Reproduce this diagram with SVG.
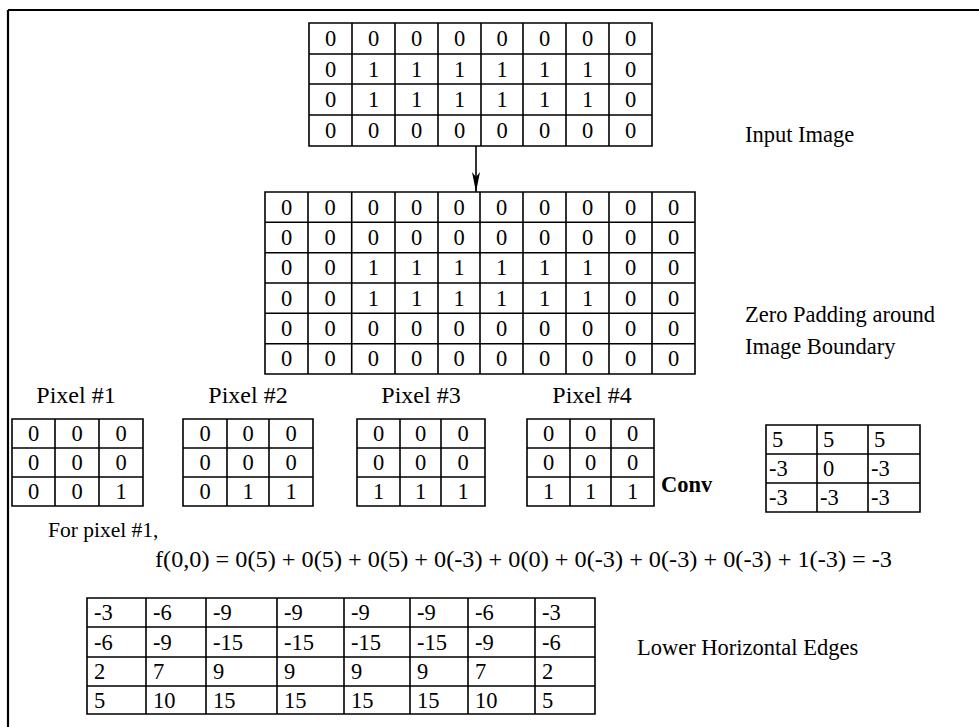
<svg xmlns="http://www.w3.org/2000/svg" width="979" height="727" viewBox="0 0 979 727">
<style>
text{font-family:"Liberation Serif","Times New Roman",serif;font-size:22.5px;fill:#000}
.c{text-anchor:middle}
.g{fill:none;stroke:#000;stroke-width:1.6}
.b{font-weight:bold}
.p{font-size:24px}
</style>
<defs>
<marker id="ah" markerUnits="userSpaceOnUse" viewBox="0 0 20 10" refX="20" refY="5" markerWidth="20" markerHeight="10" orient="auto">
<path d="M0,1 L20,5 L0,9 L5,5 Z" fill="#000"/>
</marker>
</defs>
<rect width="979" height="727" fill="#fff"/>
<g id="frame"><path d="M8,10 H979 M8,10 V727" stroke="#000" stroke-width="2.2" fill="none"/></g>

<g id="input-image">
<path class="g" d="M309,23 H652 V146 H309 Z M309,54 H652 M309,84 H652 M309,115 H652 M352,23 V146 M395,23 V146 M438,23 V146 M481,23 V146 M523,23 V146 M566,23 V146 M609,23 V146"/>
<g class="c">
<text x="330.5" y="46">0</text><text x="373.5" y="46">0</text><text x="416.5" y="46">0</text><text x="459.5" y="46">0</text><text x="502" y="46">0</text><text x="544.5" y="46">0</text><text x="587.5" y="46">0</text><text x="630.5" y="46">0</text>
<text x="330.5" y="76.5">0</text><text x="373.5" y="76.5">1</text><text x="416.5" y="76.5">1</text><text x="459.5" y="76.5">1</text><text x="502" y="76.5">1</text><text x="544.5" y="76.5">1</text><text x="587.5" y="76.5">1</text><text x="630.5" y="76.5">0</text>
<text x="330.5" y="107">0</text><text x="373.5" y="107">1</text><text x="416.5" y="107">1</text><text x="459.5" y="107">1</text><text x="502" y="107">1</text><text x="544.5" y="107">1</text><text x="587.5" y="107">1</text><text x="630.5" y="107">0</text>
<text x="330.5" y="138">0</text><text x="373.5" y="138">0</text><text x="416.5" y="138">0</text><text x="459.5" y="138">0</text><text x="502" y="138">0</text><text x="544.5" y="138">0</text><text x="587.5" y="138">0</text><text x="630.5" y="138">0</text>
</g>
</g>
<g id="label-input"><text x="745" y="142">Input Image</text></g>

<g id="connectors">
<line x1="476" y1="146" x2="476" y2="192" stroke="#000" stroke-width="1.6" marker-end="url(#ah)"/>
</g>

<g id="padded-image">
<path class="g" d="M265,192 H695 V374 H265 Z M265,222.3 H695 M265,252.7 H695 M265,283 H695 M265,313.3 H695 M265,343.7 H695 M308,192 V374 M351.7,192 V374 M395,192 V374 M438,192 V374 M480,192 V374 M523,192 V374 M566,192 V374 M609,192 V374 M652,192 V374"/>
<g class="c">
<text x="286.5" y="214.7">0</text><text x="330" y="214.7">0</text><text x="373.3" y="214.7">0</text><text x="416.5" y="214.7">0</text><text x="459" y="214.7">0</text><text x="501.5" y="214.7">0</text><text x="544.5" y="214.7">0</text><text x="587.5" y="214.7">0</text><text x="630.5" y="214.7">0</text><text x="673.5" y="214.7">0</text>
<text x="286.5" y="245">0</text><text x="330" y="245">0</text><text x="373.3" y="245">0</text><text x="416.5" y="245">0</text><text x="459" y="245">0</text><text x="501.5" y="245">0</text><text x="544.5" y="245">0</text><text x="587.5" y="245">0</text><text x="630.5" y="245">0</text><text x="673.5" y="245">0</text>
<text x="286.5" y="275.3">0</text><text x="330" y="275.3">0</text><text x="373.3" y="275.3">1</text><text x="416.5" y="275.3">1</text><text x="459" y="275.3">1</text><text x="501.5" y="275.3">1</text><text x="544.5" y="275.3">1</text><text x="587.5" y="275.3">1</text><text x="630.5" y="275.3">0</text><text x="673.5" y="275.3">0</text>
<text x="286.5" y="305.7">0</text><text x="330" y="305.7">0</text><text x="373.3" y="305.7">1</text><text x="416.5" y="305.7">1</text><text x="459" y="305.7">1</text><text x="501.5" y="305.7">1</text><text x="544.5" y="305.7">1</text><text x="587.5" y="305.7">1</text><text x="630.5" y="305.7">0</text><text x="673.5" y="305.7">0</text>
<text x="286.5" y="336">0</text><text x="330" y="336">0</text><text x="373.3" y="336">0</text><text x="416.5" y="336">0</text><text x="459" y="336">0</text><text x="501.5" y="336">0</text><text x="544.5" y="336">0</text><text x="587.5" y="336">0</text><text x="630.5" y="336">0</text><text x="673.5" y="336">0</text>
<text x="286.5" y="366.3">0</text><text x="330" y="366.3">0</text><text x="373.3" y="366.3">0</text><text x="416.5" y="366.3">0</text><text x="459" y="366.3">0</text><text x="501.5" y="366.3">0</text><text x="544.5" y="366.3">0</text><text x="587.5" y="366.3">0</text><text x="630.5" y="366.3">0</text><text x="673.5" y="366.3">0</text>
</g>
</g>
<g id="label-padding"><text x="745" y="322">Zero Padding around</text><text x="745" y="354">Image Boundary</text></g>

<g id="pixel1">
<text class="c p" x="76" y="403">Pixel #1</text>
<path class="g" d="M12,419 H143 V506 H12 Z M12,448 H143 M12,477 H143 M55,419 V506 M99,419 V506"/>
<g class="c"><text x="33.5" y="441">0</text><text x="77" y="441">0</text><text x="121" y="441">0</text><text x="33.5" y="470">0</text><text x="77" y="470">0</text><text x="121" y="470">0</text><text x="33.5" y="499">0</text><text x="77" y="499">0</text><text x="121" y="499">1</text></g>
</g>
<g id="pixel2">
<text class="c p" x="248" y="403">Pixel #2</text>
<path class="g" d="M183,419 H313 V506 H183 Z M183,448 H313 M183,477 H313 M227,419 V506 M269,419 V506"/>
<g class="c"><text x="205" y="441">0</text><text x="248" y="441">0</text><text x="291" y="441">0</text><text x="205" y="470">0</text><text x="248" y="470">0</text><text x="291" y="470">0</text><text x="205" y="499">0</text><text x="248" y="499">1</text><text x="291" y="499">1</text></g>
</g>
<g id="pixel3">
<text class="c p" x="421" y="403">Pixel #3</text>
<path class="g" d="M357,419 H485 V506 H357 Z M357,448 H485 M357,477 H485 M400,419 V506 M441,419 V506"/>
<g class="c"><text x="378.5" y="441">0</text><text x="420.5" y="441">0</text><text x="463" y="441">0</text><text x="378.5" y="470">0</text><text x="420.5" y="470">0</text><text x="463" y="470">0</text><text x="378.5" y="499">1</text><text x="420.5" y="499">1</text><text x="463" y="499">1</text></g>
</g>
<g id="pixel4">
<text class="c p" x="592" y="403">Pixel #4</text>
<path class="g" d="M527,419 H654 V506 H527 Z M527,448 H654 M527,477 H654 M570,419 V506 M611,419 V506"/>
<g class="c"><text x="548.5" y="441">0</text><text x="590.5" y="441">0</text><text x="632.5" y="441">0</text><text x="548.5" y="470">0</text><text x="590.5" y="470">0</text><text x="632.5" y="470">0</text><text x="548.5" y="499">1</text><text x="590.5" y="499">1</text><text x="632.5" y="499">1</text></g>
</g>
<g id="conv-label"><text class="b" x="661" y="492">Conv</text></g>
<g id="kernel">
<path class="g" d="M766,425 H920 V512 H766 Z M766,454 H920 M766,483 H920 M817,425 V512 M868,425 V512"/>
<text x="772" y="447">5</text><text x="823" y="447">5</text><text x="874" y="447">5</text>
<text x="769" y="476">-3</text><text x="823" y="476">0</text><text x="871" y="476">-3</text>
<text x="769" y="505">-3</text><text x="820" y="505">-3</text><text x="871" y="505">-3</text>
</g>

<g id="formula">
<text x="48" y="537" style="font-size:21.5px">For pixel #1,</text>
<text x="155" y="567" textLength="737" lengthAdjust="spacingAndGlyphs">f(0,0) = 0(5) + 0(5) + 0(5) + 0(-3) + 0(0) + 0(-3) + 0(-3) + 0(-3) + 1(-3) = -3</text>
</g>

<g id="result">
<path class="g" d="M87,598 H595 V714 H87 Z M87,627 H595 M87,657 H595 M87,686 H595 M146,598 V714 M206,598 V714 M277,598 V714 M344,598 V714 M410,598 V714 M468,598 V714 M535,598 V714"/>
<text x="94" y="620">-3</text><text x="153" y="620">-6</text><text x="213" y="620">-9</text><text x="284" y="620">-9</text><text x="351" y="620">-9</text><text x="417" y="620">-9</text><text x="475" y="620">-6</text><text x="542" y="620">-3</text>
<text x="94" y="649.5">-6</text><text x="153" y="649.5">-9</text><text x="213" y="649.5">-15</text><text x="284" y="649.5">-15</text><text x="351" y="649.5">-15</text><text x="417" y="649.5">-15</text><text x="475" y="649.5">-9</text><text x="542" y="649.5">-6</text>
<text x="94" y="679">2</text><text x="153" y="679">7</text><text x="213" y="679">9</text><text x="284" y="679">9</text><text x="351" y="679">9</text><text x="417" y="679">9</text><text x="475" y="679">7</text><text x="542" y="679">2</text>
<text x="94" y="707.5">5</text><text x="153" y="707.5">10</text><text x="213" y="707.5">15</text><text x="284" y="707.5">15</text><text x="351" y="707.5">15</text><text x="417" y="707.5">15</text><text x="475" y="707.5">10</text><text x="542" y="707.5">5</text>
</g>
<g id="label-result"><text x="637" y="655">Lower Horizontal Edges</text></g>
</svg>
